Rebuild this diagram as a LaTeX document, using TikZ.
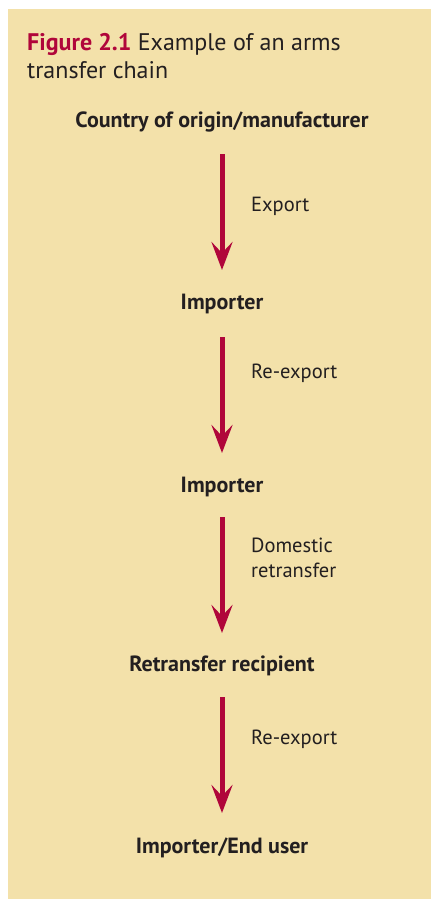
\documentclass[tikz,border=0pt]{standalone}
\usepackage{fontspec}
\setmainfont{PT Sans}
\usetikzlibrary{arrows.meta}
\definecolor{bg}{RGB}{243,225,170}
\definecolor{crim}{RGB}{176,6,58}
\definecolor{ink}{RGB}{35,31,32}
\begin{document}
\begin{tikzpicture}[x=1pt,y=-1pt,
  stage/.style={font=\fontsize{22}{24}\selectfont\bfseries, text=ink, inner sep=0pt, anchor=base},
  lbl/.style={font=\fontsize{20.5}{25}\selectfont, text=ink, inner sep=0pt, anchor=base west, align=left},
  flow/.style={crim, line width=5pt, -{Stealth[length=28pt,width=21pt,inset=11pt]}, shorten >=0pt}]
\useasboundingbox (0,0) rectangle (431,899);
\fill[bg] (8,9) rectangle (431,899);
\node[anchor=base west, inner sep=0pt, text=ink, font=\fontsize{24}{28}\selectfont, align=left] (title) at (27,78)
  {{\color{crim}\bfseries Figure 2.1} Example of an arms\\transfer chain};
\node[stage] (s1) at (222,127) {Country of origin/manufacturer};
\node[stage] (s2) at (222,309) {Importer};
\node[stage] (s3) at (222,492) {Importer};
\node[stage] (s4) at (222,671) {Retransfer recipient};
\node[stage] (s5) at (222,853) {Importer/End user};
\coordinate (a1s) at (222,154); \coordinate (a1e) at (222,270);
\coordinate (a2s) at (222,337); \coordinate (a2e) at (222,453);
\coordinate (a3s) at (222,517); \coordinate (a3e) at (222,633);
\coordinate (a4s) at (222,697); \coordinate (a4e) at (222,813);
\draw[flow] (a1s) -- (a1e);
\draw[flow] (a2s) -- (a2e);
\draw[flow] (a3s) -- (a3e);
\draw[flow] (a4s) -- (a4e);
\node[lbl] (l1) at (251,211) {Export};
\node[lbl] (l2) at (251,378) {Re-export};
\node[lbl] (l3) at (251,577) {Domestic\\retransfer};
\node[lbl] (l4) at (251,744) {Re-export};
\end{tikzpicture}
\end{document}
